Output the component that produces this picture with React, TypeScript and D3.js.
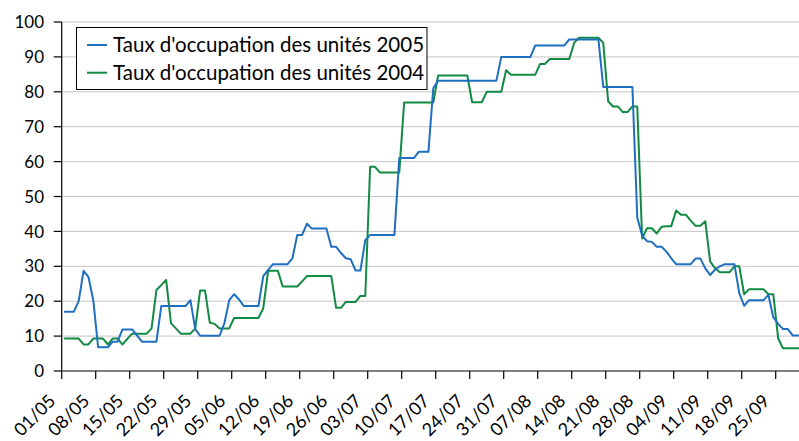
import React from "react";
import * as d3 from "d3";

// daily values, 01/05 -> 30/09
const taux2005 = [
  17, 17, 17, 20, 28.7, 27, 20.3, 6.8, 6.8, 6.8,
  8.4, 8.4, 11.9, 11.9, 11.9, 10.2, 8.4, 8.4, 8.4, 8.4,
  18.6, 18.6, 18.6, 18.6, 18.6, 18.6, 20.3, 12, 10.1, 10.1,
  10.1, 10.1, 10.1, 13.7, 20.3, 22, 20.5, 18.6, 18.6, 18.6,
  18.6, 27.2, 29, 30.6, 30.6, 30.6, 30.6, 32.3, 39, 39,
  42.2, 40.8, 40.8, 40.8, 40.8, 35.6, 35.6, 33.8, 32.3, 32,
  28.8, 28.8, 37.5, 39, 39, 39, 39, 39, 39, 61,
  61, 61, 61, 62.8, 62.8, 62.8, 81, 83.2, 83.2, 83.2,
  83.2, 83.2, 83.2, 83.2, 83.2, 83.2, 83.2, 83.2, 83.2, 83.2,
  90, 90, 90, 90, 90, 90, 90, 93.3, 93.3, 93.3,
  93.3, 93.3, 93.3, 93.3, 95, 95, 95, 95, 95, 95,
  95, 81.4, 81.4, 81.4, 81.4, 81.4, 81.4, 81.4, 43.9, 38.8,
  37.2, 37, 35.6, 35.6, 34.2, 32.3, 30.6, 30.6, 30.6, 30.6,
  32.2, 32.2, 29.4, 27.5, 29, 30, 30.6, 30.6, 30.6, 22.3,
  18.7, 20.3, 20.3, 20.3, 20.3, 21.8, 15.4, 13.5, 12, 12,
  10.2, 10.2, 10.2,
];

const taux2004 = [
  9.3, 9.3, 9.3, 9.3, 7.6, 7.6, 9.3, 9.3, 9.3, 7.6,
  9.3, 9.3, 7.6, 9.2, 10.7, 10.7, 10.7, 10.7, 12.2, 23.2,
  24.6, 26.1, 13.7, 12.2, 10.7, 10.7, 10.7, 12.2, 23.1, 23.1,
  13.8, 13.5, 12.2, 12.2, 12.2, 15.2, 15.2, 15.2, 15.2, 15.2,
  15.2, 18, 28.7, 28.7, 28.7, 24.2, 24.2, 24.2, 24.2, 25.7,
  27.2, 27.2, 27.2, 27.2, 27.2, 27.2, 18.1, 18.1, 19.8, 19.8,
  19.8, 21.5, 21.5, 58.5, 58.5, 56.9, 56.9, 56.9, 56.9, 56.9,
  76.9, 76.9, 76.9, 76.9, 76.9, 76.9, 76.9, 84.7, 84.7, 84.7,
  84.7, 84.7, 84.7, 84.7, 77, 77, 77, 80, 80, 80,
  80, 86.2, 84.9, 84.9, 84.9, 84.9, 84.9, 84.9, 88, 88,
  89.4, 89.4, 89.4, 89.4, 89.4, 94, 95.5, 95.5, 95.5, 95.5,
  95.5, 94, 77.3, 75.8, 75.8, 74.2, 74.2, 75.8, 75.8, 38,
  40.9, 40.9, 39.4, 41.3, 41.5, 41.5, 46, 44.8, 44.8, 43.1,
  41.6, 41.6, 42.9, 31.4, 29.5, 28.3, 28.3, 28.3, 30, 30,
  22, 23.4, 23.4, 23.4, 23.4, 22, 22, 9.4, 6.5, 6.5,
  6.5, 6.5, 6.5,
];

const weekLabels = [
  "01/05", "08/05", "15/05", "22/05", "29/05", "05/06", "12/06", "19/06",
  "26/06", "03/07", "10/07", "17/07", "24/07", "31/07", "07/08", "14/08",
  "21/08", "28/08", "04/09", "11/09", "18/09", "25/09",
];

const yTicks = [0, 10, 20, 30, 40, 50, 60, 70, 80, 90, 100];

const series = [
  { name: "Taux d'occupation des unités 2005", values: taux2005, color: "#1f6fc1" },
  { name: "Taux d'occupation des unités 2004", values: taux2004, color: "#118a42" },
];

const W = 799;
const H = 441;
const left = 61.7;
const dayW = 34 / 7;
const font = "Lato, 'Open Sans', sans-serif";

export default function App() {
  const days = d3.range(taux2005.length);

  const x = d3
    .scaleBand<number>()
    .domain(days)
    .range([left, left + days.length * dayW]);

  const y = d3.scaleLinear().domain([0, 100]).range([371, 22]);

  const line = (vals: number[]) =>
    d3
      .line<number>()
      .x((_, i) => (x(i) as number) + x.bandwidth() / 2)
      .y((v) => y(v))(vals) as string;

  const right = left + days.length * dayW;

  return (
    <svg
      width={W}
      height={H}
      style={{ position: "absolute", left: 0, top: 0, background: "#fff" }}
      fontFamily={font}
    >
      {/* grid */}
      {yTicks
        .filter((t) => t > 0)
        .map((t) => (
          <line
            key={t}
            x1={left}
            x2={right}
            y1={y(t)}
            y2={y(t)}
            stroke="#c6c6c6"
            strokeWidth={1}
          />
        ))}

      {/* series, 2004 under 2005 */}
      {series
        .slice()
        .reverse()
        .map((s) => (
          <path
            key={s.name}
            d={line(s.values)}
            fill="none"
            stroke={s.color}
            strokeWidth={2}
            strokeLinejoin="round"
          />
        ))}

      {/* y axis */}
      <line x1={left} x2={left} y1={y(100)} y2={y(0)} stroke="#000" strokeWidth={1.2} />
      {yTicks.map((t) => (
        <g key={t}>
          <line x1={left - 8} x2={left} y1={y(t)} y2={y(t)} stroke="#000" strokeWidth={1.2} />
          <text
            x={44}
            y={y(t)}
            dy="0.36em"
            textAnchor="end"
            fontSize={17}
            fill="#000"
          >
            {t}
          </text>
        </g>
      ))}

      {/* x axis */}
      <line x1={left} x2={right} y1={y(0)} y2={y(0)} stroke="#000" strokeWidth={1.2} />
      {weekLabels.map((lab, i) => {
        const tx = x(i * 7) as number;
        return (
          <g key={lab}>
            <line x1={tx} x2={tx} y1={y(0)} y2={y(0) + 8} stroke="#000" strokeWidth={1.2} />
            <text
              transform={`translate(${tx - 5},${402}) rotate(-45)`}
              textAnchor="end"
              fontSize={18}
              fill="#000"
            >
              {lab}
            </text>
          </g>
        );
      })}

      {/* legend */}
      <rect x={76.5} y={27.5} width={350.5} height={62} fill="#fff" stroke="#000" strokeWidth={1} />
      {series.map((s, i) => (
        <g key={s.name} transform={`translate(0,${45 + i * 27.7})`}>
          <line x1={87} x2={107} y1={0} y2={0} stroke={s.color} strokeWidth={2} />
          <text x={113} y={0} dy="0.36em" fontSize={20.5} fill="#000">
            {s.name}
          </text>
        </g>
      ))}
    </svg>
  );
}
